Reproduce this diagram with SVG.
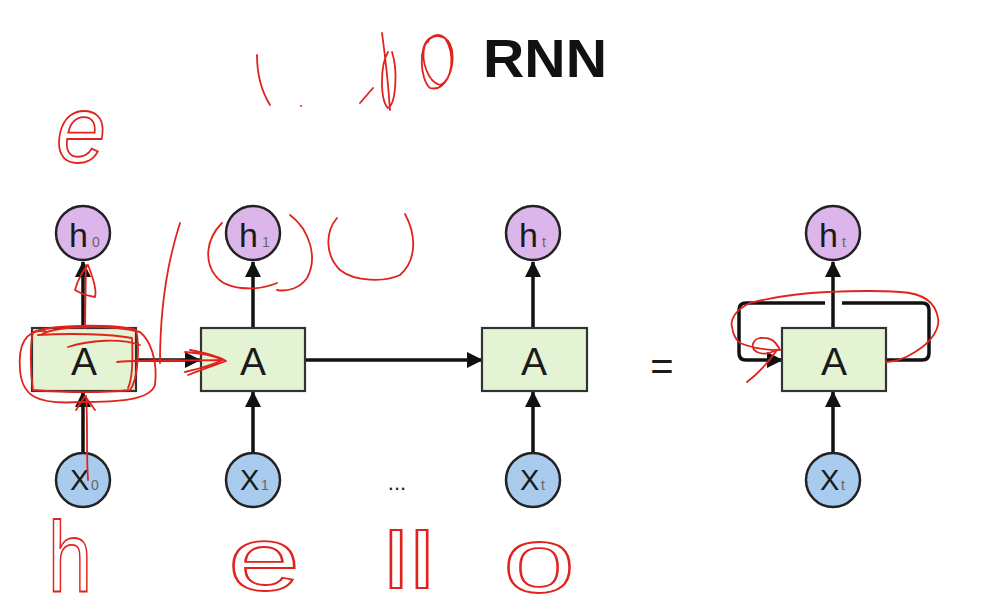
<svg xmlns="http://www.w3.org/2000/svg" width="995" height="614" viewBox="0 0 995 614">
<defs>
<marker id="ah" markerUnits="userSpaceOnUse" markerWidth="16" markerHeight="16" viewBox="0 0 16 16" refX="15" refY="8" orient="auto">
<path d="M0,0 L16,8 L0,16 z" fill="#111"/>
</marker>
<style>
.h{fill:#dcb6ea;stroke:#222;stroke-width:2.5}
.x{fill:#a8cbee;stroke:#222;stroke-width:2.5}
.a{fill:#e4f3d3;stroke:#333;stroke-width:2.2}
.lab{font-family:"Liberation Sans",Arial,sans-serif;fill:#1a1a1a}
.sub{font-family:"Liberation Sans",Arial,sans-serif;fill:#666}
.conn{stroke:#111;stroke-width:3.5;fill:none}
.red{stroke:#e0231c;stroke-width:1.8;fill:none;stroke-linecap:round;stroke-linejoin:round}
.hw{font-family:"Liberation Sans",Arial,sans-serif;fill:none;stroke:#e0231c;stroke-width:1.8}
</style>
</defs>
<rect width="995" height="614" fill="#fff"/>
<text x="483" y="77" font-family="Liberation Sans,Arial,sans-serif" font-weight="bold" font-size="54" textLength="124" lengthAdjust="spacingAndGlyphs" fill="#111">RNN</text>

<g id="connectors">
<line class="conn" x1="83" y1="328" x2="83" y2="262" marker-end="url(#ah)"/>
<line class="conn" x1="253" y1="328" x2="253" y2="262" marker-end="url(#ah)"/>
<line class="conn" x1="533" y1="328" x2="533" y2="262" marker-end="url(#ah)"/>
<line class="conn" x1="833" y1="328" x2="833" y2="262" marker-end="url(#ah)"/>
<line class="conn" x1="83" y1="453" x2="83" y2="392" marker-end="url(#ah)"/>
<line class="conn" x1="253" y1="453" x2="253" y2="392" marker-end="url(#ah)"/>
<line class="conn" x1="533" y1="453" x2="533" y2="392" marker-end="url(#ah)"/>
<line class="conn" x1="833" y1="453" x2="833" y2="392" marker-end="url(#ah)"/>
<line class="conn" x1="136" y1="360" x2="200" y2="360" marker-end="url(#ah)"/>
<line class="conn" x1="305" y1="360" x2="482" y2="360" marker-end="url(#ah)"/>
<path class="conn" d="M886,360 H922 Q929,360 929,353 V310 Q929,303 922,303 H842"/>
<path class="conn" d="M825,303 H746 Q739,303 739,310 V353 Q739,360 746,360 H782" marker-end="url(#ah)"/>
</g>

<g id="h0"><circle class="h" cx="83" cy="233" r="27"/><text class="lab" x="69" y="247" font-size="34">h</text><text class="sub" x="92" y="247" font-size="14">0</text></g>
<g id="h1"><circle class="h" cx="253" cy="233" r="27"/><text class="lab" x="239" y="247" font-size="34">h</text><text class="sub" x="262" y="247" font-size="14">1</text></g>
<g id="ht"><circle class="h" cx="533" cy="233" r="27"/><text class="lab" x="519" y="247" font-size="34">h</text><text class="sub" x="542" y="247" font-size="14">t</text></g>
<g id="ht2"><circle class="h" cx="833" cy="233" r="27"/><text class="lab" x="819" y="247" font-size="34">h</text><text class="sub" x="842" y="247" font-size="14">t</text></g>

<g id="A0"><rect class="a" x="32" y="328" width="104" height="63"/><text class="lab" x="84" y="375" font-size="39" text-anchor="middle">A</text></g>
<g id="A1"><rect class="a" x="201" y="328" width="104" height="63"/><text class="lab" x="253" y="375" font-size="39" text-anchor="middle">A</text></g>
<g id="At"><rect class="a" x="482" y="328" width="105" height="63"/><text class="lab" x="534" y="375" font-size="39" text-anchor="middle">A</text></g>
<g id="At2"><rect class="a" x="782" y="328" width="104" height="63"/><text class="lab" x="834" y="375" font-size="39" text-anchor="middle">A</text></g>

<g id="x0"><circle class="x" cx="83" cy="480" r="27"/><text class="lab" x="70" y="490" font-size="29">X</text><text class="sub" x="91" y="490" font-size="14">0</text></g>
<g id="x1"><circle class="x" cx="253" cy="480" r="27"/><text class="lab" x="240" y="490" font-size="29">X</text><text class="sub" x="261" y="490" font-size="14">1</text></g>
<g id="xt"><circle class="x" cx="533" cy="480" r="27"/><text class="lab" x="520" y="490" font-size="29">X</text><text class="sub" x="541" y="490" font-size="14">t</text></g>
<g id="xt2"><circle class="x" cx="833" cy="480" r="27"/><text class="lab" x="820" y="490" font-size="29">X</text><text class="sub" x="841" y="490" font-size="14">t</text></g>

<text class="lab" x="397" y="490" font-size="22" text-anchor="middle">...</text>
<text class="lab" x="662" y="380" font-size="40" text-anchor="middle">=</text>

<g id="annotations">
<path class="red" d="M257,55 C257,75 262,92 270,105"/>
<circle cx="301" cy="106" r="1" fill="#e0231c"/>
<path class="red" d="M360,103 L373,88"/>
<path class="red" d="M382,33 C385,55 388,80 390,110 M388,52 C380,65 380,100 388,108 C396,104 398,70 392,52"/>
<path class="red" d="M430,38 C418,45 420,80 430,88 C445,92 455,70 452,50 C448,33 432,32 425,45 C420,60 428,82 440,85 C452,80 456,55 445,38 C438,32 430,36 428,42"/>
<path class="red" d="M180,223 C168,260 160,310 160,363"/>
<path class="red" d="M222,223 C205,240 205,262 215,275 C225,290 255,292 277,283 M290,215 C310,230 318,258 307,278 C300,288 288,292 277,290"/>
<path class="red" d="M337,218 C325,232 325,255 340,270 C355,282 385,282 400,275 C415,262 418,238 405,214"/>
<path class="red" d="M33,332 C60,323 120,325 136,330 C140,345 138,380 130,390 C100,393 60,392 33,390 C30,370 30,345 33,332"/>
<path class="red" d="M45,331 C25,330 18,345 20,370 C22,395 35,405 80,402 C120,402 150,400 155,385 C158,360 150,340 140,332 C110,325 60,325 42,334"/>
<path class="red" d="M38,335 C70,333 110,334 132,338 C133,360 133,378 128,388 M68,347 C90,340 120,338 140,345"/>
<path class="red" d="M117,362 C150,359 185,361 222,360 M185,352 C200,353 215,356 223,360 C212,365 198,369 185,372 M190,350 C205,353 218,356 226,361 C212,366 200,370 188,375"/>
<path class="red" d="M85,328 L86,265 M75,290 C78,278 85,268 88,265 C92,275 97,290 95,297 C88,296 80,293 75,290"/>
<path class="red" d="M88,480 C86,450 88,420 86,396 M76,410 L85,396 L95,410"/>
<path class="red" d="M886,362 C895,361 903,360 915,352 C932,342 940,328 938,318 C935,300 920,293 900,292 C870,290 850,291 827,292 C800,293 770,298 750,303 C735,310 730,320 732,327 C733,335 737,341 740,343 C752,348 765,350 780,350 M780,350 C775,340 770,337 760,338 C752,340 750,348 757,352 C765,356 772,352 777,350 C770,360 760,372 747,382"/>
<text class="hw" x="56" y="162" font-size="95" font-style="italic" font-family="Liberation Serif,serif" textLength="50" lengthAdjust="spacingAndGlyphs">e</text>
<text class="hw" x="48" y="592" font-size="100" textLength="44" lengthAdjust="spacingAndGlyphs">h</text>
<text class="hw" x="228" y="590" font-size="90" textLength="72" lengthAdjust="spacingAndGlyphs">e</text>
<text class="hw" x="383" y="588" font-size="80" textLength="52" lengthAdjust="spacingAndGlyphs">ll</text>
<text class="hw" x="503" y="592" font-size="92" textLength="72" lengthAdjust="spacingAndGlyphs">o</text>
</g>
</svg>
